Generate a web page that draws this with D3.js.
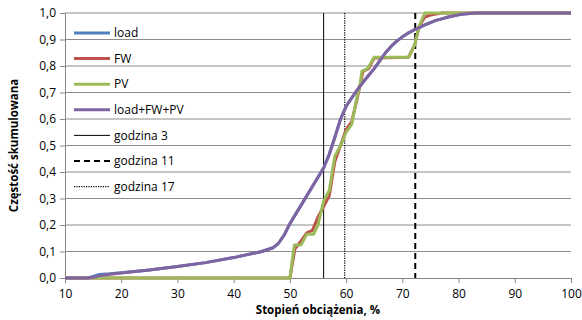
<!DOCTYPE html>
<html><head><meta charset="utf-8">
<script src="https://cdn.jsdelivr.net/npm/d3@7"></script>
<style>body{margin:0;background:#fff}svg{display:block;font-family:"Open Sans",sans-serif}</style>
</head><body><svg id="c" width="582" height="320"></svg>
<script>
const xTicks = [10,20,30,40,50,60,70,80,90,100];
const yTicks = [0,0.1,0.2,0.3,0.4,0.5,0.6,0.7,0.8,0.9,1.0];

const loadX = [10,14,15,16,18,20,25,30,35,40,45,47,48,49,50,51,52,53,54,55,56,57,58,59,60,61,62,63,64,65,66,67,68,69,70,71,72,73,74,75,76,77,78,79,80,81,82,83,100];
const loadY = [0,0,0.006,0.013,0.016,0.02,0.03,0.043,0.058,0.077,0.1,0.114,0.132,0.163,0.205,0.24,0.275,0.31,0.345,0.38,0.415,0.468,0.532,0.598,0.648,0.68,0.71,0.74,0.765,0.79,0.82,0.85,0.874,0.894,0.91,0.924,0.935,0.945,0.955,0.964,0.972,0.978,0.984,0.989,0.993,0.996,0.998,1,1];
const mixX = loadX;
const mixY = [0,0,0.003,0.008,0.014,0.019,0.03,0.043,0.058,0.077,0.1,0.114,0.132,0.163,0.205,0.24,0.275,0.31,0.345,0.38,0.415,0.465,0.53,0.6,0.648,0.68,0.71,0.738,0.764,0.79,0.82,0.85,0.874,0.894,0.91,0.924,0.935,0.945,0.955,0.964,0.972,0.978,0.984,0.989,0.993,0.996,0.998,1,1];

const fwX = [10,50,50.9,52,53,54,55,56,57,58,59,60,61,62,62.5,63,64,65,71.1,72.2,73,74,75,77,100];
const fwY = [0,0,0.11,0.14,0.17,0.18,0.23,0.27,0.31,0.44,0.5,0.56,0.59,0.68,0.73,0.78,0.79,0.83,0.833,0.88,0.95,0.985,0.992,1,1];
const pvX = [10,50,50.8,52,53,54.2,55,56,57,58,59,60,61,62,62.5,62.8,63.8,65,71.1,72.2,73,74,100];
const pvY = [0,0,0.125,0.125,0.165,0.165,0.2,0.29,0.33,0.46,0.5,0.55,0.58,0.69,0.73,0.78,0.79,0.833,0.833,0.88,0.95,1,1];

const hourLines = [
  {name:"godzina 3", x:56.0, dash:null, w:1},
  {name:"godzina 11", x:72.3, dash:"6,4", w:2},
  {name:"godzina 17", x:59.75, dash:"1.2,1.2", w:1.2}
];
const seriesNames = ["load","FW","PV","load+FW+PV"];
const seriesColors = ["#4F81BD","#C0504D","#9BBB59","#8064A2"];

const svg = d3.select("#c");
const L=65,R=571,T=13,B=278;
const x = d3.scaleLinear().domain([10,100]).range([L,R]);
const y = d3.scaleLinear().domain([0,1]).range([B,T]);

// gridlines
svg.append("g").selectAll("line").data(yTicks.filter(d=>d>0)).join("line")
  .attr("x1",L).attr("x2",R).attr("y1",d=>y(d)).attr("y2",d=>y(d))
  .attr("stroke","#8c8c8c").attr("stroke-width",1);

// axes
const fmt = d=>d3.format(".1f")(d).replace(".",",");
const gy = svg.append("g").attr("transform",`translate(${L},0)`)
  .call(d3.axisLeft(y).tickValues(yTicks).tickFormat(fmt).tickSize(5).tickPadding(4));
const gx = svg.append("g").attr("transform",`translate(0,${B})`)
  .call(d3.axisBottom(x).tickValues(xTicks).tickSize(5).tickPadding(4));
[gy,gx].forEach(g=>{
  g.select(".domain").attr("stroke","#868686");
  g.selectAll(".tick line").attr("stroke","#868686");
  g.selectAll("text").attr("font-size",12).attr("fill","#000").attr("font-family","'Open Sans',sans-serif");
});
gx.selectAll("text").attr("dy","0.9em");

// hour lines
svg.append("g").selectAll("line").data(hourLines).join("line")
  .attr("x1",d=>x(d.x)).attr("x2",d=>x(d.x)).attr("y1",T).attr("y2",B)
  .attr("stroke","#000").attr("stroke-width",d=>d.w).attr("stroke-dasharray",d=>d.dash);

// series
const line = d3.line().x(d=>x(d[0])).y(d=>y(d[1]));
const series = [
  {xs:loadX, ys:loadY},{xs:fwX, ys:fwY},{xs:pvX, ys:pvY},{xs:mixX, ys:mixY}
];
series.forEach((s,i)=>{
  svg.append("path").datum(s.xs.map((v,j)=>[v,s.ys[j]]))
    .attr("d",line).attr("fill","none").attr("stroke",seriesColors[i])
    .attr("stroke-width",3).attr("stroke-linejoin","round");
});

// legend
const legend = svg.append("g");
const items = seriesNames.map((n,i)=>({name:n,color:seriesColors[i],w:3,dash:null}))
  .concat(hourLines.map(h=>({name:h.name,color:"#000",w:h.w,dash:h.dash})));
items.forEach((it,i)=>{
  const yy = 33 + i*25.6;
  legend.append("line").attr("x1",74).attr("x2",110).attr("y1",yy).attr("y2",yy)
    .attr("stroke",it.color).attr("stroke-width",it.w).attr("stroke-dasharray",it.dash);
  legend.append("text").attr("x",114).attr("y",yy).attr("dy","0.35em")
    .attr("font-size",12).text(it.name);
});

// axis titles
svg.append("text").attr("x",(L+R)/2).attr("y",314).attr("text-anchor","middle")
  .attr("font-size",11.5).attr("font-weight","bold").text("Stopień obciążenia, %");
svg.append("text").attr("transform",`translate(18,${(T+B)/2}) rotate(-90)`)
  .attr("text-anchor","middle").attr("font-size",11.5).attr("font-weight","bold").text("Częstość skumulowana");
</script></body></html>
